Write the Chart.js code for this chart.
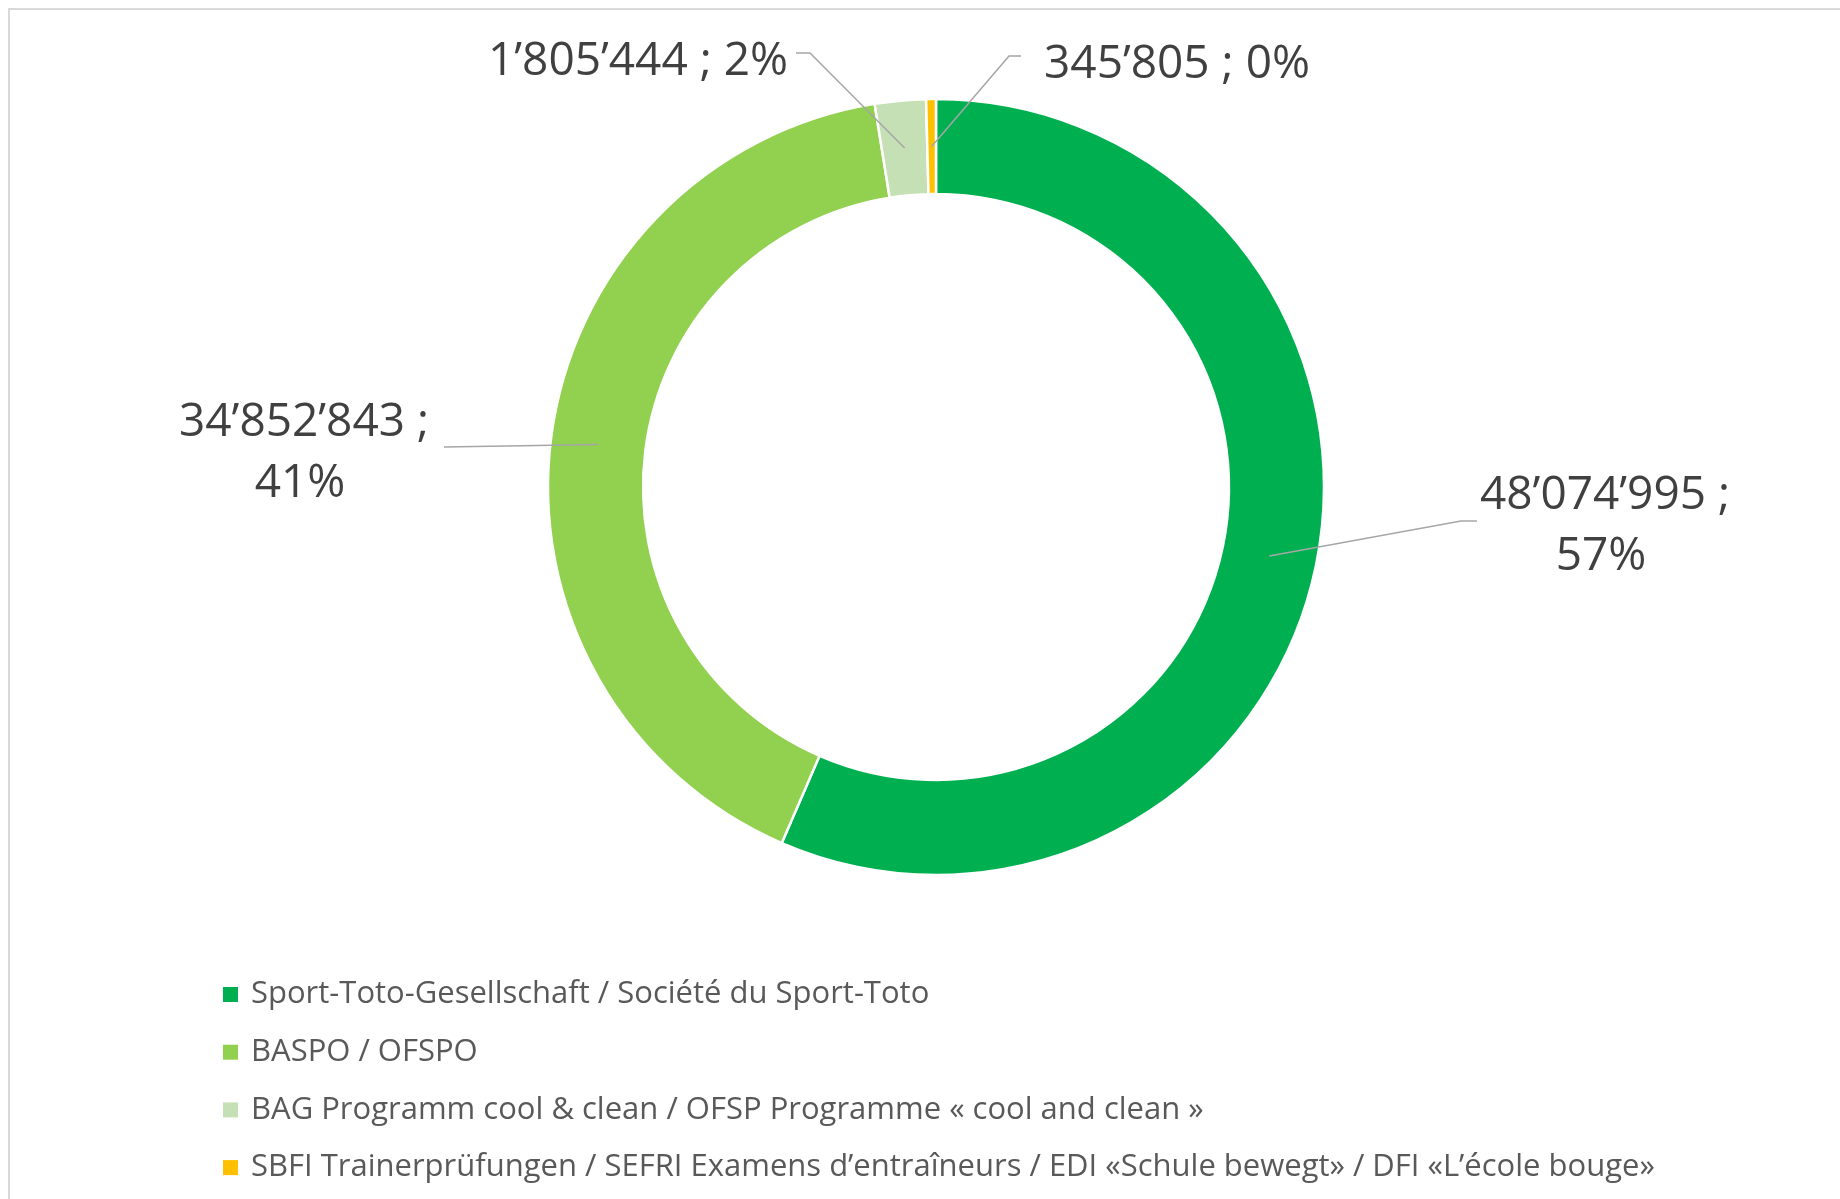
<!DOCTYPE html>
<html>
<head>
<meta charset="utf-8">
<title>Finanzierung</title>
<script src="https://cdn.jsdelivr.net/npm/chart.js@4.4.1/dist/chart.umd.min.js"></script>
<style>
    html, body { margin: 0; padding: 0; background: #fff; }
    #wrap { position: relative; width: 1840px; height: 1199px; }
</style>
</head>
<body>
<div id="wrap"><canvas id="fundingChart"></canvas></div>
<script>
const categories = [
    'Sport-Toto-Gesellschaft / Société du Sport-Toto',
    'BASPO / OFSPO',
    'BAG Programm cool & clean / OFSP Programme « cool and clean »',
    'SBFI Trainerprüfungen / SEFRI Examens d’entraîneurs / EDI «Schule bewegt» / DFI «L’école bouge»'
];
const amounts = [48074995, 34852843, 1805444, 345805];
const sliceColors = ['#00B050', '#92D050', '#C5E0B4', '#FFC000'];

// label spots relative to the donut centre (px): text centre, leader knee, leader end
const labelSpots = [
    { text: [669, 39], knee: [525, 34], end: [541, 34], twoLines: true },
    { text: [-632, -34], knee: [-492, -40], end: [-492, -40], twoLines: true },
    { text: [-298, -425], knee: [-126, -434], end: [-140, -434], twoLines: false },
    { text: [241, -422], knee: [73, -431], end: [85, -431], twoLines: false }
];

const total = amounts.reduce((a, b) => a + b, 0);
const fmt = v => String(v).replace(/\B(?=(\d{3})+(?!\d))/g, '’');

const frame = {
    id: 'frame',
    beforeDraw(chart) {
        const ctx = chart.ctx;
        ctx.save();
        ctx.fillStyle = '#fff';
        ctx.fillRect(0, 0, chart.width, chart.height);
        ctx.strokeStyle = '#d9d9d9';
        ctx.lineWidth = 2;
        ctx.beginPath();
        ctx.moveTo(9, chart.height);
        ctx.lineTo(9, 9);
        ctx.lineTo(chart.width, 9);
        ctx.stroke();
        ctx.restore();
    }
};

const dataLabels = {
    id: 'dataLabels',
    afterDatasetsDraw(chart) {
        const ctx = chart.ctx;
        const meta = chart.getDatasetMeta(0);
        const cx = meta.data[0].x, cy = meta.data[0].y;
        ctx.save();
        meta.data.forEach((arc, i) => {
            const spot = labelSpots[i];
            const start = arc.tooltipPosition();
            // leader line
            ctx.strokeStyle = '#a6a6a6';
            ctx.lineWidth = 1.5;
            ctx.beginPath();
            ctx.moveTo(start.x, start.y);
            ctx.lineTo(cx + spot.knee[0], cy + spot.knee[1]);
            ctx.lineTo(cx + spot.end[0], cy + spot.end[1]);
            ctx.stroke();

            const pct = Math.round(amounts[i] / total * 100) + '%';
            ctx.fillStyle = '#404040';
            ctx.font = '46px "Open Sans"';
            ctx.textAlign = 'center';
            ctx.textBaseline = 'middle';
            const tx = cx + spot.text[0], ty = cy + spot.text[1];
            if (spot.twoLines) {
                ctx.fillText(fmt(amounts[i]) + ' ;', tx, ty - 30);
                ctx.fillText(pct, tx - 4, ty + 31);
            } else {
                ctx.fillText(fmt(amounts[i]) + ' ; ' + pct, tx, ty);
            }
        });
        ctx.restore();
    }
};

const listLegend = {
    id: 'listLegend',
    afterDraw(chart) {
        const ctx = chart.ctx;
        ctx.save();
        ctx.font = '31px "Open Sans"';
        ctx.textBaseline = 'middle';
        ctx.textAlign = 'left';
        categories.forEach((name, i) => {
            const y = 994.5 + i * 57.7;
            ctx.fillStyle = sliceColors[i];
            ctx.fillRect(223, y - 7.5, 15, 15);
            ctx.fillStyle = '#595959';
            ctx.fillText(name, 251, y);
        });
        ctx.restore();
    }
};

const ctx = document.getElementById('fundingChart').getContext('2d');
new Chart(ctx, {
    type: 'doughnut',
    data: {
        labels: categories,
        datasets: [{
            data: amounts,
            backgroundColor: sliceColors,
            borderColor: '#ffffff',
            borderWidth: 2.5,
            hoverOffset: 0
        }]
    },
    options: {
        responsive: true,
        maintainAspectRatio: false,
        animation: false,
        radius: 388,
        cutout: '75.5%',
        layout: { padding: { left: 32, right: 0, top: 0, bottom: 225 } },
        plugins: {
            legend: { display: false },
            tooltip: { enabled: false }
        }
    },
    plugins: [frame, dataLabels, listLegend]
});
</script>
</body>
</html>
